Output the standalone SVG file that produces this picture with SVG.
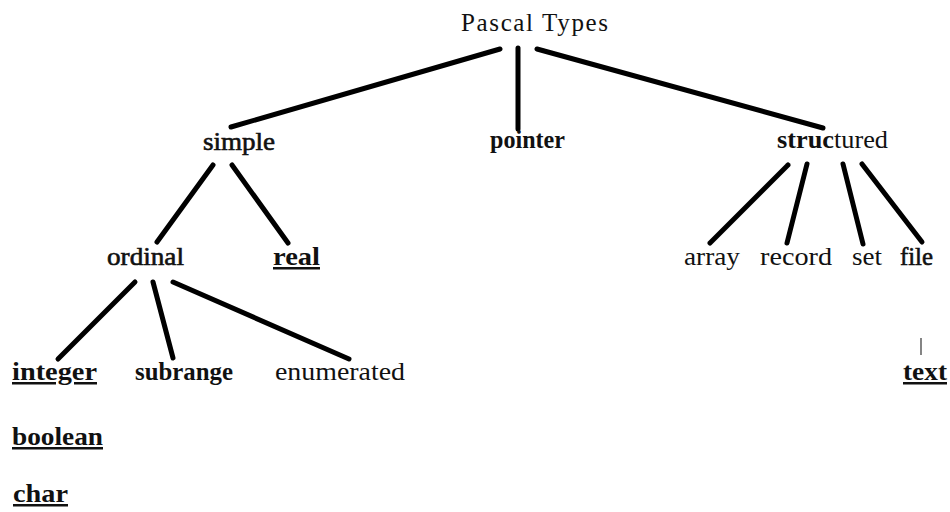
<svg xmlns="http://www.w3.org/2000/svg" width="950" height="512" viewBox="0 0 950 512">
  <style>
    text { font-family: "Liberation Serif", "DejaVu Serif", "Times New Roman", serif; font-size: 25px; fill: #111; }
    .b { font-weight: bold; }
    .h { stroke: #111; stroke-width: 0.6px; }
    .u { text-decoration: underline; }
    .edge { stroke: #000; stroke-width: 5; stroke-linecap: round; fill: none; }
    .thin { stroke: #333; stroke-width: 1.2; fill: none; }
  </style>
  <rect width="950" height="512" fill="#fff"/>

  <!-- connectors -->
  <g id="connectors">
    <line class="edge" x1="500" y1="49" x2="231" y2="127" stroke-width="4.5"/>
    <line class="edge" x1="518" y1="48" x2="518" y2="129" stroke-width="4.5"/>
    <line class="edge" x1="537" y1="49" x2="823" y2="128" stroke-width="4.5"/>
    <line class="edge" x1="213" y1="165" x2="157" y2="242"/>
    <line class="edge" x1="232" y1="165" x2="288" y2="243"/>
    <line class="edge" x1="135" y1="282" x2="58" y2="359"/>
    <line class="edge" x1="153" y1="282" x2="173" y2="358"/>
    <line class="edge" x1="173" y1="282" x2="349" y2="359"/>
    <line class="edge" x1="788" y1="165" x2="710" y2="243"/>
    <line class="edge" x1="807" y1="164" x2="787" y2="243"/>
    <line class="edge" x1="843" y1="164" x2="863" y2="244"/>
    <line class="edge" x1="862" y1="164" x2="922" y2="242"/>
    <line class="thin" x1="921" y1="338" x2="921" y2="355"/>
  </g>

  <g id="root"><text x="461" y="31" textLength="147" lengthAdjust="spacing">Pascal Types</text></g>
  <g id="simple"><text class="h" x="203" y="150" textLength="72" lengthAdjust="spacingAndGlyphs">simple</text></g>
  <g id="pointer"><text class="b" x="490" y="148" textLength="75" lengthAdjust="spacingAndGlyphs">pointer</text></g>
  <g id="structured"><text x="777" y="148" textLength="111" lengthAdjust="spacingAndGlyphs"><tspan class="b">struc</tspan>tured</text></g>
  <g id="ordinal"><text class="h" x="107" y="265" textLength="77" lengthAdjust="spacingAndGlyphs">ordinal</text></g>
  <g id="real"><text class="b u" x="273" y="265" textLength="47" lengthAdjust="spacingAndGlyphs">real</text></g>
  <g id="array"><text x="684" y="265" textLength="56" lengthAdjust="spacingAndGlyphs">array</text></g>
  <g id="record"><text x="760" y="265" textLength="72" lengthAdjust="spacingAndGlyphs">record</text></g>
  <g id="set"><text x="852" y="265" textLength="30" lengthAdjust="spacingAndGlyphs">set</text></g>
  <g id="file"><text class="h" x="900" y="265" textLength="33" lengthAdjust="spacingAndGlyphs">file</text></g>
  <g id="integer"><text class="b u" x="12" y="380" textLength="85" lengthAdjust="spacingAndGlyphs">integer</text></g>
  <g id="subrange"><text class="b" x="135" y="380" textLength="98" lengthAdjust="spacingAndGlyphs">subrange</text></g>
  <g id="enumerated"><text x="275" y="380" textLength="130" lengthAdjust="spacingAndGlyphs">enumerated</text></g>
  <g id="text"><text class="b u" x="903" y="380" textLength="44" lengthAdjust="spacingAndGlyphs">text</text></g>
  <g id="boolean"><text class="b u" x="12" y="445" textLength="91" lengthAdjust="spacingAndGlyphs">boolean</text></g>
  <g id="char"><text class="b u" x="13" y="502" textLength="55" lengthAdjust="spacingAndGlyphs">char</text></g>
</svg>
